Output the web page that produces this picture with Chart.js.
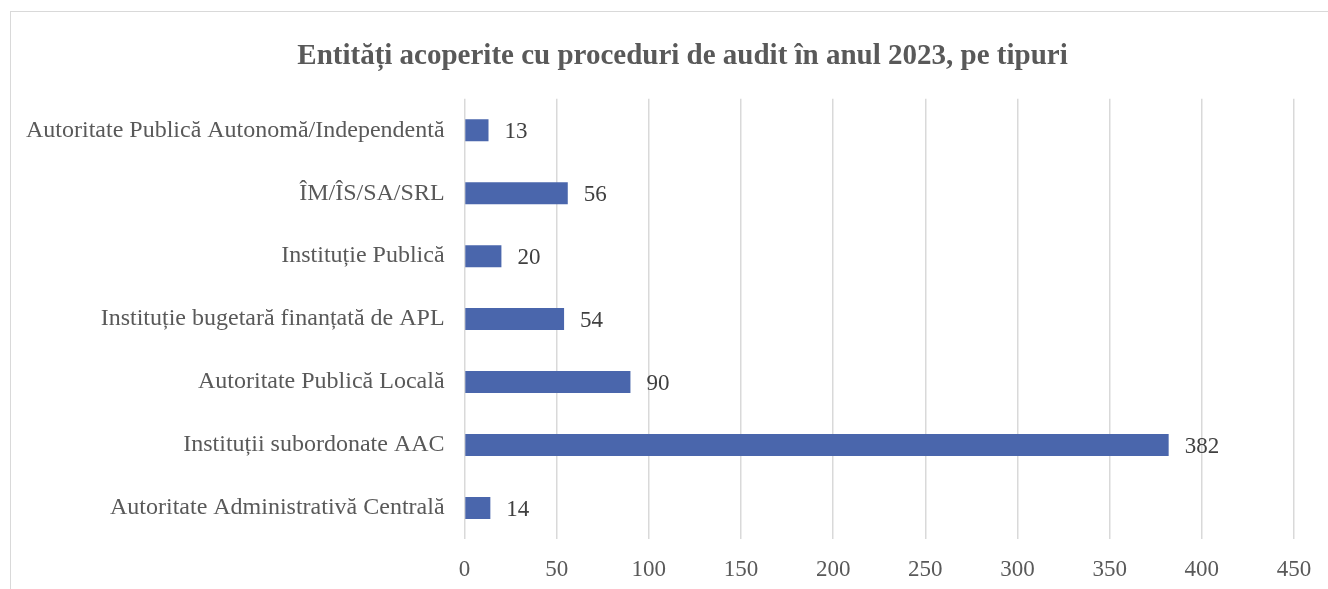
<!DOCTYPE html>
<html lang="ro">
<head>
<meta charset="UTF-8" />
<title>Entități acoperite cu proceduri de audit</title>
<script src="https://cdn.jsdelivr.net/npm/chart.js@4"></script>
<style>
  * { margin: 0; padding: 0; box-sizing: border-box; }
  html, body { width: 1328px; height: 589px; overflow: hidden; background: #fff; }
  .chart-box {
    position: absolute;
    left: 10px;
    top: 11px;
    width: 1345px;
    height: 620px;
    border: 1px solid #d9d9d9;
    background: #fff;
    overflow: hidden;
  }
  #auditChart { position: relative; left: -5px; }
</style>
</head>
<body>
<div class="chart-box">
  <canvas id="auditChart"></canvas>
</div>
<script>
const categories = [
  "Autoritate Publică Autonomă/Independentă",
  "ÎM/ÎS/SA/SRL",
  "Instituție Publică",
  "Instituție bugetară finanțată de APL",
  "Autoritate Publică Locală",
  "Instituții subordonate AAC",
  "Autoritate Administrativă Centrală"
];
const entityCounts = [13, 56, 20, 54, 90, 382, 14];
const xTicks = [0, 50, 100, 150, 200, 250, 300, 350, 400, 450];

const serif = "'Liberation Serif', 'Times New Roman', serif";

// value labels to the right of each bar
const barValueLabels = {
  id: "barValueLabels",
  afterDatasetsDraw(chart) {
    const ctx = chart.ctx;
    const meta = chart.getDatasetMeta(0);
    ctx.save();
    ctx.font = "23px " + serif;
    ctx.fillStyle = "#404040";
    ctx.textAlign = "left";
    ctx.textBaseline = "middle";
    meta.data.forEach((bar, i) => {
      ctx.fillText(String(entityCounts[i]), bar.x + 16, bar.y + 2);
    });
    ctx.restore();
  }
};

// center the title on the visible box, not on the padded area
const wideTitle = {
  id: "wideTitle",
  afterLayout(chart) {
    if (chart.titleBlock) {
      chart.titleBlock.left = 10;
      chart.titleBlock.right = chart.width;
    }
  }
};

new Chart(document.getElementById("auditChart"), {
  type: "bar",
  data: {
    labels: categories,
    datasets: [{
      data: entityCounts,
      backgroundColor: "#4a66ac",
      barPercentage: 0.5,
      categoryPercentage: 0.7
    }]
  },
  options: {
    indexAxis: "y",
    responsive: true,
    maintainAspectRatio: false,
    animation: false,
    layout: { padding: { left: 0, right: 55, top: 0, bottom: 29 } },
    plugins: {
      legend: { display: false },
      tooltip: { enabled: false },
      title: {
        display: true,
        text: "Entități acoperite cu proceduri de audit în anul 2023, pe tipuri",
        color: "#595959",
        font: { family: serif, size: 29, weight: "bold" },
        padding: { top: 27, bottom: 25 }
      }
    },
    scales: {
      x: {
        min: 0,
        max: 450,
        afterBuildTicks(axis) {
          axis.ticks = xTicks.map(v => ({ value: v }));
        },
        grid: { color: "#d9d9d9", lineWidth: 1.5, drawTicks: false },
        border: { display: false },
        ticks: {
          color: "#595959",
          font: { family: serif, size: 23 },
          padding: 17
        }
      },
      y: {
        grid: { display: false, drawTicks: false },
        border: { display: false },
        ticks: {
          color: "#595959",
          font: { family: serif, size: 24 },
          padding: 20
        }
      }
    }
  },
  plugins: [barValueLabels, wideTitle]
});
</script>
</body>
</html>
